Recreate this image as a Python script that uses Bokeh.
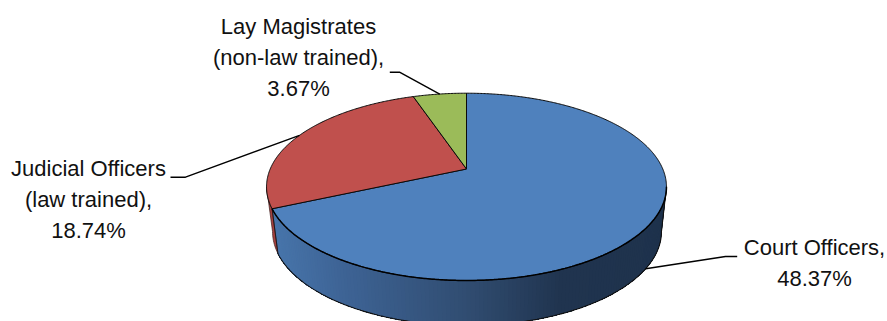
import math

from bokeh.core.properties import value
from bokeh.embed import file_html
from bokeh.models import Range1d
from bokeh.plotting import figure
from bokeh.resources import INLINE

# Staff categories and their published shares
names = ["Court Officers", "Judicial Officers\n(law trained)", "Lay Magistrates\n(non-law trained)"]
shares = [48.37, 18.74, 3.67]
colors = ["#4F81BD", "#C0504D", "#9BBB59"]

# Perspective projection of the pie disc on to the page
APEX_X, APEX_Y = 466.0, 168.5
K = 0.1906
A = 196.3
B = 90.25
# Lower rim, related to the upper rim's ellipse
TOP_CY = 186.3
RIM_SX, RIM_SY = 0.9725, 1.004
RIM_CX, RIM_CY = 466.5, 231.0


def top_point(deg):
    t = math.radians(deg)
    d = 1 + K * math.cos(t)
    return APEX_X + A * math.sin(t) / d, APEX_Y - B * math.cos(t) / d


def rim_point(deg):
    x, y = top_point(deg)
    return RIM_CX + (x - APEX_X) * RIM_SX, RIM_CY + (y - TOP_CY) * RIM_SY


def sweep(a, b, step=0.5):
    n = max(2, int(abs(b - a) / step))
    return [a + (b - a) * i / n for i in range(n + 1)]


def mix(stops, x):
    for (x0, c0), (x1, c1) in zip(stops, stops[1:]):
        if x <= x1:
            f = max(0.0, (x - x0) / (x1 - x0))
            break
    else:
        c0 = c1 = stops[-1][1]
        f = 0.0
    return "#%02x%02x%02x" % tuple(round(p + (q - p) * f) for p, q in zip(c0, c1))


total = sum(shares)
edges = [0.0]
for s in shares:
    edges.append(edges[-1] + 360.0 * s / total)
mids = [(a + b) / 2 for a, b in zip(edges, edges[1:])]

p = figure(
    width=887, height=321, output_backend="svg", toolbar_location=None,
    x_range=Range1d(0, 887), y_range=Range1d(321, 0),
    min_border=0, outline_line_color=None, background_fill_color="white",
)
p.axis.visible = False
p.grid.visible = False

# Side wall: overlapping strips, shaded left to right. Each strip reaches from
# its own start to the wall's far end, so no seams show between neighbours.
edge_deg = math.degrees(math.acos(-K))
blue_stops = [(270, (72, 118, 172)), (340, (62, 100, 150)), (470, (48, 76, 112)),
              (560, (32, 52, 79)), (670, (30, 50, 76))]
deg = sweep(edge_deg, edges[1], 1.0)
xs, ys, fills = [], [], []
for a, b in zip(deg, deg[1:]):
    top = [top_point(d) for d in sweep(a, edges[1], 4.0)]
    low = [rim_point(d) for d in reversed(sweep(a, edges[1], 1.0))]
    ring = top + low
    xs.append([c[0] for c in ring])
    ys.append([c[1] for c in ring])
    fills.append(mix(blue_stops, (top_point(a)[0] + rim_point(b)[0]) / 2))
p.patches(xs, ys, fill_color=fills, line_color=None)

# Sliver of the red slice's wall on the far left
red_deg = sweep(edges[1], 360 - edge_deg, 1.0)
red_top = [top_point(d) for d in red_deg]
red_low = [rim_point(d) for d in reversed(red_deg)]
p.patch([c[0] for c in red_top + red_low], [c[1] for c in red_top + red_low],
        fill_color="#A5403E", line_color="#3a1a1a", line_width=0.7)

# Wall outline
low = [rim_point(d) for d in sweep(edge_deg, edges[1])]
right = [top_point(edge_deg)] + low
p.line([c[0] for c in right], [c[1] for c in right], line_color="#101010", line_width=1.1)
split = [top_point(edges[1]), rim_point(edges[1])]
p.line([c[0] for c in split], [c[1] for c in split], line_color="#101010", line_width=0.7)

# Top faces of the slices
for a, b, color in zip(edges, edges[1:], colors):
    arc = [top_point(d) for d in sweep(a, b)]
    p.patch([APEX_X] + [c[0] for c in arc], [APEX_Y] + [c[1] for c in arc],
            fill_color=color, line_color="#0a0a0a", line_width=1.0)

# Heavier edge where the top face meets the wall
front = [top_point(d) for d in sweep(edge_deg, edges[1])]
p.line([c[0] for c in front], [c[1] for c in front], line_color="black", line_width=1.5)

# Leader lines run from each slice's mid-angle to a short horizontal stub
tips = [rim_point(mids[0]), top_point(mids[1]), top_point(mids[2])]
bends = [(725, 256), (185, 176.7), (399, 71.7)]
stubs = [(736.7, 256), (170, 176.7), (389.3, 71.7)]
for tip, bend, stub in zip(tips, bends, stubs):
    p.line([tip[0], bend[0], stub[0]], [tip[1], bend[1], stub[1]],
           line_color="black", line_width=1.4)

# Data labels, one text per line
centers = [(814, 247), (88, 168), (298, 26)]
LINE_GAP = 31
for name, share, (cx, cy) in zip(names, shares, centers):
    parts = name.split("\n")
    parts[-1] += ","
    parts.append(f"{share:.2f}%")
    p.text(
        [cx] * len(parts), [cy + i * LINE_GAP for i in range(len(parts))], text=parts,
        text_font=value("Liberation Sans"), text_font_size="22px",
        text_color="#111111", text_align="center", text_baseline="middle",
    )

open("out.html", "w").write(file_html(p, INLINE))
